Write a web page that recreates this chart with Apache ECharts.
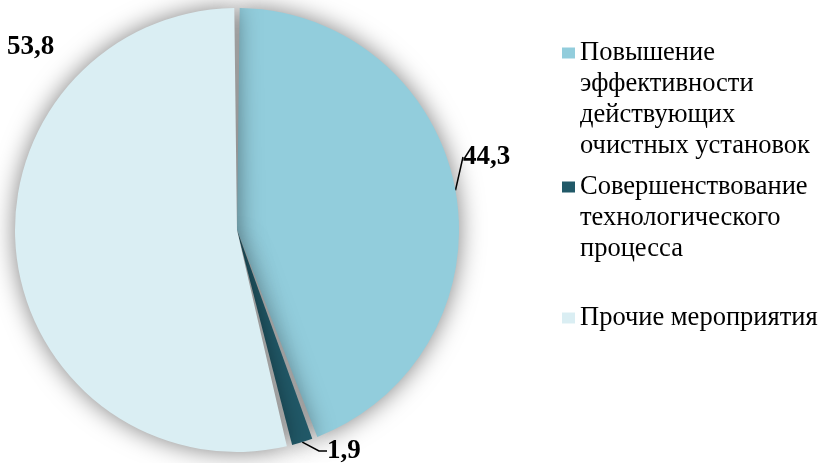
<!DOCTYPE html>
<html>
<head>
<meta charset="utf-8">
<script src="https://cdn.jsdelivr.net/npm/echarts@6/dist/echarts.min.js"></script>
<style>
    html, body { margin: 0; padding: 0; background: #fff; }
    #chart { width: 823px; height: 463px; }
</style>
</head>
<body>
<div id="chart"></div>
<script>
// данные диаграммы
var categories = [
    'Повышение\nэффективности\nдействующих\nочистных установок',
    'Совершенствование\nтехнологического\nпроцесса',
    'Прочие мероприятия'
];
var values = [44.3, 1.9, 53.8];

// оформление
var colors = ['#92CDDC', '#215968', '#DAEEF3'];
var labelPos = [[463, 157], [327, 451], [7, 47]];
var lineLen = [[2, 0], [10, 8], [0, 0]];
var legendIconY = [53, 187, 318];
var lineH = 31;

var chart = echarts.init(document.getElementById('chart'));

var data = [];
for (var i = 0; i < categories.length; i++) {
    data.push({
        name: categories[i],
        value: values[i],
        itemStyle: { color: colors[i] },
        labelLine: { show: i !== 2, length: lineLen[i][0], length2: lineLen[i][1] }
    });
}

// легенда: отдельный блок на каждую категорию, первая строка напротив значка
var legends = [];
for (var j = 0; j < categories.length; j++) {
    var n = categories[j].split('\n').length;
    legends.push({
        orient: 'vertical',
        left: 562,
        top: legendIconY[j] - (2 * n - 1) * lineH / 2,
        padding: 0,
        icon: 'rect',
        itemWidth: 13,
        itemHeight: 11,
        data: [categories[j]],
        formatter: function (name) {
            var k = name.split('\n').length;
            return new Array(k).join('\n') + name;
        },
        textStyle: {
            fontFamily: 'Liberation Serif',
            fontSize: 26.5,
            lineHeight: lineH,
            color: '#000'
        }
    });
}

var option = {
    backgroundColor: '#fff',
    animation: false,
    legend: legends,
    series: [
        {
            type: 'pie',
            center: [237, 230],
            radius: 222,
            startAngle: 90,
            padAngle: 1.4,
            itemStyle: {
                shadowBlur: 24,
                shadowColor: 'rgba(0,0,0,0.5)'
            },
            label: {
                show: true,
                position: 'outside',
                overflow: 'none',
                formatter: function (p) {
                    return String(p.value).replace('.', ',');
                },
                fontFamily: 'Liberation Serif',
                fontWeight: 'bold',
                fontSize: 27,
                color: '#000'
            },
            labelLine: {
                show: true,
                lineStyle: { color: '#000', width: 1.5 }
            },
            labelLayout: function (params) {
                var p = labelPos[params.dataIndex];
                return { x: p[0], y: p[1], align: 'left', verticalAlign: 'middle' };
            },
            data: data
        }
    ]
};

chart.setOption(option);
</script>
</body>
</html>
